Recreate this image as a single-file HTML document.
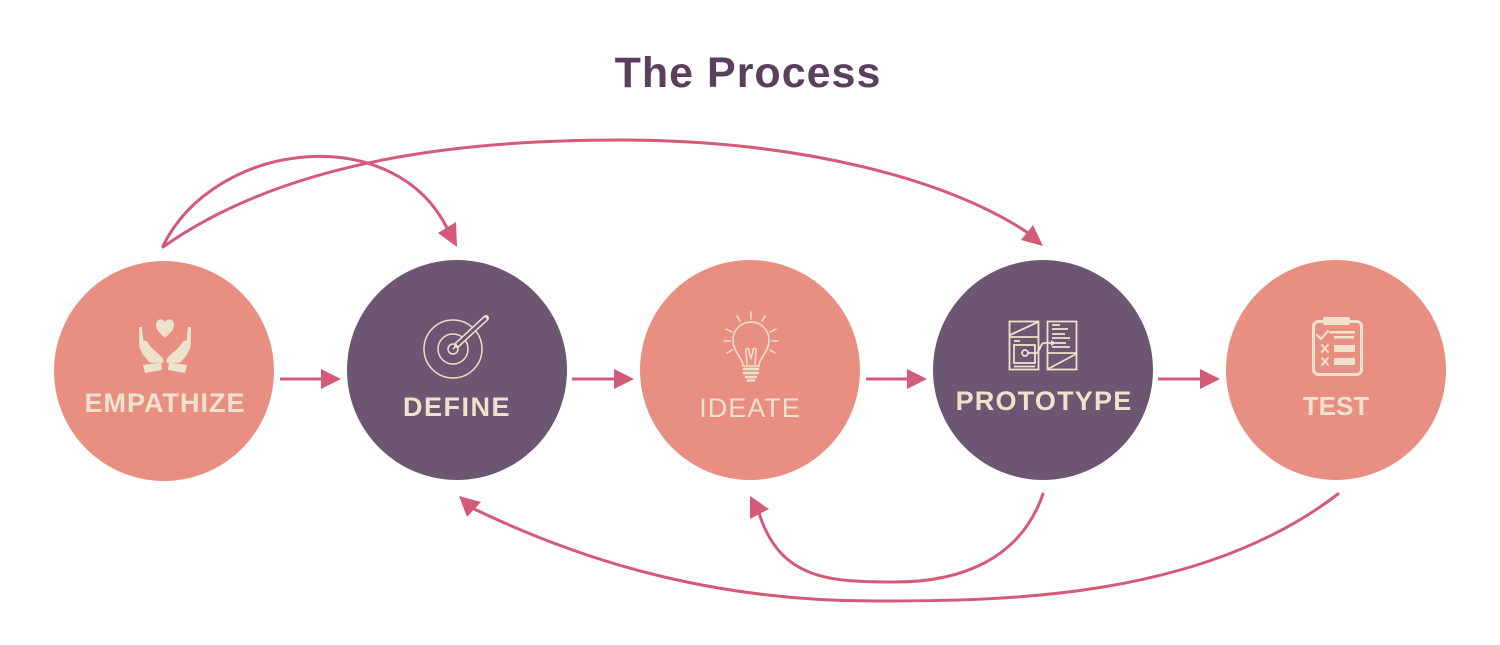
<!DOCTYPE html>
<html><head><meta charset="utf-8"><style>
html,body{margin:0;padding:0;background:#fff;}
svg{display:block;}
</style></head><body>
<svg width="1500" height="645" viewBox="0 0 1500 645" xmlns="http://www.w3.org/2000/svg">
<rect width="1500" height="645" fill="#fff"/>
<text x="748" y="87" text-anchor="middle" font-family="Liberation Sans, sans-serif" font-weight="bold" font-size="43" letter-spacing="1" fill="#5a405c">The Process</text>

<!-- circles -->
<circle cx="164" cy="371" r="110" fill="#e98f82"/>
<circle cx="457" cy="370" r="110" fill="#6d5671"/>
<circle cx="750" cy="370" r="110" fill="#e98f82"/>
<circle cx="1043" cy="370" r="110" fill="#6d5671"/>
<circle cx="1336" cy="370" r="110" fill="#e98f82"/>

<!-- straight arrows -->
<g stroke="#d45a79" stroke-width="3" fill="none">
<line x1="280" y1="379" x2="323" y2="379"/>
<line x1="572" y1="379" x2="616" y2="379"/>
<line x1="866" y1="379" x2="909" y2="379"/>
<line x1="1158" y1="379" x2="1202" y2="379"/>
</g>
<g fill="#d45a79">
<polygon points="321,369 341,379 321,389"/>
<polygon points="614,369 634,379 614,389"/>
<polygon points="907,369 927,379 907,389"/>
<polygon points="1200,369 1220,379 1200,389"/>
</g>

<!-- curved arrows -->
<g stroke="#d45a79" stroke-width="3" fill="none" stroke-linecap="round">
<path d="M163,246 C215,140 395,120 448,230"/>
<path d="M163,247 C300,150 500,140 620,140 C800,140 950,180 1028,233"/>
<path d="M1338,494 C1200,600 1000,601 875,601 C700,601 570,555 472,508"/>
<path d="M1043,494 C1020,560 960,582 895,582 C830,582 780,580 759,513"/>
</g>
<g fill="#d45a79">
<polygon points="438,233 456,222 457,247"/>
<polygon points="1021,240 1033,225 1043,246"/>
<polygon points="481,502 467,517 459,496"/>
<polygon points="769,509 750,519 750,496"/>
</g>

<!-- labels -->
<g font-family="Liberation Sans, sans-serif" font-weight="bold" font-size="27" fill="#ede2cc" text-anchor="middle">
<text x="165" y="412" letter-spacing="1">EMPATHIZE</text>
<text x="457" y="416" letter-spacing="1.5">DEFINE</text>
<text x="750" y="417" letter-spacing="1" font-weight="normal">IDEATE</text>
<text x="1044" y="410" letter-spacing="1.2">PROTOTYPE</text>
<text x="1336" y="415" font-size="26">TEST</text>
</g>

<!-- empathize icon -->
<g fill="#ede2cc">
<path d="M165,338 C160,333 156,330 156,325 C156,321 159,319 161.5,319.5 C163.5,320 164.5,321 165,322.5 C165.5,321 166.5,320 168.5,319.5 C171,319 174,321 174,325 C174,330 170,333 165,338 Z"/>
<path d="M139,327 L142,327 L143.3,340 L146.7,341.3 L151.7,348 L158.3,353.7 L163.3,358.7 L163.3,362.7 L150,362.7 L143.3,355.3 L139.3,347 Z"/>
<polygon points="143,365 161,362.5 162,370 145,373"/>
<path d="M191,327 L188,327 L186.7,340 L183.3,341.3 L178.3,348 L171.7,353.7 L166.7,358.7 L166.7,362.7 L180,362.7 L186.7,355.3 L190.7,347 Z"/>
<polygon points="187,365 169,362.5 168,370 185,373"/>
</g>

<!-- define icon -->
<g stroke="#ede2cc" stroke-width="1.5" fill="none">
<circle cx="453" cy="349" r="29"/>
<circle cx="453" cy="349" r="15"/>
<circle cx="453" cy="349" r="5"/>
</g>
<line x1="457" y1="345" x2="486" y2="318" stroke="#ede2cc" stroke-width="6" stroke-linecap="round"/>
<line x1="458" y1="344" x2="485" y2="319" stroke="#6d5671" stroke-width="3" stroke-linecap="round"/>
<line x1="453" y1="349" x2="457" y2="345" stroke="#ede2cc" stroke-width="1.5"/>

<!-- ideate icon -->
<g stroke="#ede2cc" stroke-width="1.5" fill="none" stroke-linecap="round">
<path d="M743,366 C743,358 733,352 733,340 A18,18 0 1 1 769,340 C769,352 759,358 759,366 Z"/>
<path d="M747,364 L746,352 C745,347 750,347 749,352 L751,358 L753,352 C752,347 757,347 756,352 L755,364"/>
<line x1="751" y1="312" x2="751" y2="319"/>
<line x1="737" y1="316" x2="740" y2="321"/>
<line x1="765" y1="316" x2="762" y2="321"/>
<line x1="726" y1="329" x2="732" y2="332"/>
<line x1="776" y1="329" x2="770" y2="332"/>
<line x1="724" y1="341" x2="730" y2="341"/>
<line x1="778" y1="341" x2="772" y2="341"/>
<line x1="727" y1="353" x2="732" y2="350"/>
<line x1="775" y1="353" x2="770" y2="350"/>
</g>
<g stroke="#ede2cc" stroke-width="2.5" stroke-linecap="round">
<line x1="744" y1="369" x2="758" y2="369"/>
<line x1="744" y1="373" x2="758" y2="373"/>
<line x1="746" y1="377" x2="756" y2="377"/>
<line x1="748" y1="380.5" x2="754" y2="380.5"/>
</g>

<!-- prototype icon -->
<g stroke="#ede2cc" stroke-width="1.8" fill="none">
<rect x="1009.5" y="321.5" width="29" height="48"/>
<line x1="1010" y1="335" x2="1038" y2="322"/>
<line x1="1010" y1="337" x2="1038" y2="337"/>
<line x1="1014" y1="341" x2="1020" y2="341"/>
<rect x="1014" y="345" width="21" height="18"/>
<circle cx="1025" cy="353" r="3"/>
<line x1="1014" y1="366.5" x2="1035" y2="366.5"/>
<rect x="1047.5" y="321.5" width="29" height="48"/>
<line x1="1052" y1="325" x2="1060" y2="325"/>
<line x1="1052" y1="329" x2="1068" y2="329"/>
<line x1="1052" y1="334" x2="1065" y2="334"/>
<line x1="1052" y1="338" x2="1070" y2="338"/>
<line x1="1052" y1="343" x2="1066" y2="343"/>
<line x1="1052" y1="347" x2="1070" y2="347"/>
<line x1="1048" y1="353" x2="1076" y2="353"/>
<line x1="1048" y1="369" x2="1076" y2="354"/>
<path d="M1028,353 L1036,353 C1040,353 1040,343 1044,343 L1052,343"/>
</g>
<polygon points="1051,340 1056,343 1051,346" fill="#ede2cc"/>

<!-- test icon -->
<rect x="1313.5" y="321.5" width="48" height="53" rx="5" fill="none" stroke="#ede2cc" stroke-width="3"/>
<rect x="1323" y="317" width="27" height="8" rx="2" fill="#ede2cc"/>
<g stroke="#ede2cc" stroke-width="2" fill="none" stroke-linecap="round">
<path d="M1317,335 L1321,339 L1328,331"/>
<line x1="1322" y1="345" x2="1328" y2="352"/>
<line x1="1328" y1="345" x2="1322" y2="352"/>
<line x1="1322" y1="358" x2="1328" y2="365"/>
<line x1="1328" y1="358" x2="1322" y2="365"/>
</g>
<g fill="#ede2cc">
<rect x="1329" y="331" width="26" height="2.5"/>
<rect x="1334" y="336" width="20" height="2.5"/>
<rect x="1334" y="345" width="21" height="7"/>
<rect x="1334" y="358" width="21" height="7"/>
</g>
</svg>
</body></html>
